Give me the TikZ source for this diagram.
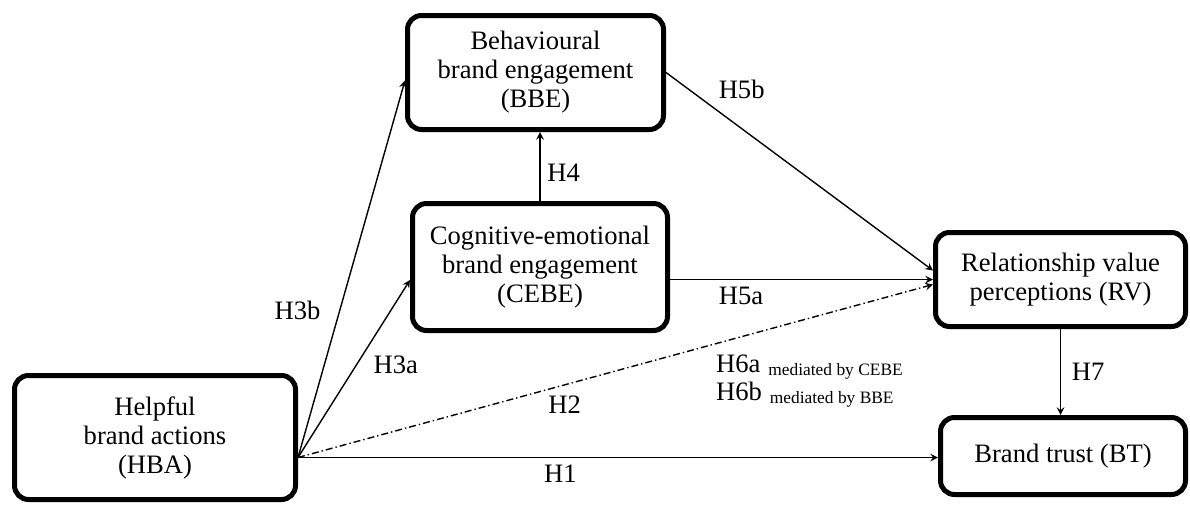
\documentclass[tikz,border=0pt]{standalone}
\usepackage{fontspec}
\setmainfont{Liberation Serif}
\usepackage{tikz}
\usetikzlibrary{calc}

\newcommand{\medby}[1]{\raisebox{-1.5pt}{\fontsize{8.7}{9}\selectfont #1}}

\begin{document}
\begin{tikzpicture}[x=0.5pt,y=-0.5pt,font=\fontsize{13.3}{14.5}\selectfont,
        box/.style={draw,line width=2.5pt,rounded corners=7pt,align=center,inner sep=0pt},
        hyp/.style={->,-stealth,line width=0.7pt}]
        \useasboundingbox (0,0) rectangle (1190,504);

        \node[box,minimum width=140.5pt,minimum height=62pt] (hba) at (155,437.5) {Helpful\\brand actions\\(HBA)};
        \node[box,minimum width=128pt,minimum height=57pt] (bbe) at (535.5,72.5) {Behavioural\\brand engagement\\(BBE)};
        \node[box,minimum width=127.5pt,minimum height=63.5pt] (cebe) at (540,267) {Cognitive-emotional\\brand engagement\\(CEBE)};
        \node[box,minimum width=125pt,minimum height=47pt] (rv) at (1060.5,279.5) {Relationship value\\perceptions (RV)};
        \node[box,minimum width=122.5pt,minimum height=38.5pt] (bt) at (1063,456) {Brand trust (BT)};

        \coordinate (src) at ($(hba.east)+(0,20)$);

        \draw[hyp] (src)--node[below,pos=0.41]{H1}(src -| bt.west);
        \draw[hyp,dash pattern=on 3.5pt off 1.5pt on 0.7pt off 1.5pt] (src)--node[below,pos=0.42,yshift=-2pt]{H2}($(rv.west)+(0,5)$);
        \draw[hyp] (src)--node[left,pos=0.39,xshift=-6pt]{H3b}($(bbe.west)+(0,8)$);
        \draw[hyp] (src)--node[right,pos=0.52,xshift=5pt]{H3a}($(cebe.west)+(0,13)$);
        \draw[hyp] (cebe.north)--node[right,yshift=-3pt]{H4}(cebe.north |- bbe.south);
        \draw[hyp] (cebe.east |- rv.west)--node[below,pos=0.27]{H5a}(rv.west);
        \draw[hyp] (bbe.east)--node[above right,pos=0.17]{H5b}($(rv.west)+(0,-9)$);
        \draw[hyp] (rv.south)--node[right,xshift=2pt]{H7}(rv.south |- bt.north);

        \node[anchor=west,align=left,font=\fontsize{13.3}{10.5}\selectfont] (h6) at (709,381) {H6a\hspace{4pt}\medby{mediated by CEBE}\\H6b\hspace{4pt}\medby{mediated by BBE}};
    \end{tikzpicture}
\end{document}
